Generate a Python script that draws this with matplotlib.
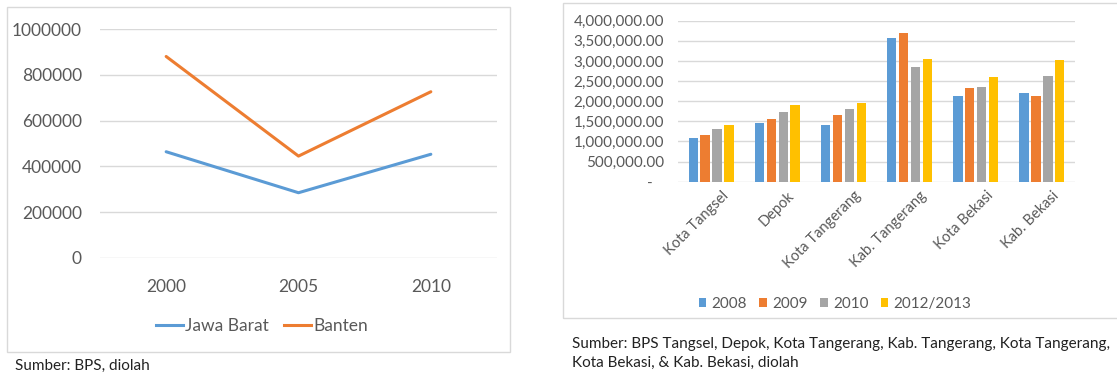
import matplotlib.pyplot as plt
from matplotlib.patches import Rectangle
from matplotlib.lines import Line2D
import matplotlib.transforms as mtransforms
import numpy as np

plt.rcParams['font.family'] = ['Lato', 'DejaVu Sans']

# line chart: Jawa Barat vs Banten
years = ['2000', '2005', '2010']
jawa_barat = [464000, 285000, 453000]
banten = [880000, 445000, 726000]

# bar chart: six cities/regencies, four periods
regions = ['Kota Tangsel', 'Depok', 'Kota Tangerang', 'Kab. Tangerang',
           'Kota Bekasi', 'Kab. Bekasi']
periods = ['2008', '2009', '2010', '2012/2013']
v2008 = [1076000, 1449000, 1407000, 3576000, 2127000, 2194000]
v2009 = [1167000, 1565000, 1656000, 3684000, 2326000, 2119000]
v2010 = [1308000, 1738000, 1805000, 2839000, 2343000, 2632000]
v2012 = [1407000, 1896000, 1954000, 3055000, 2591000, 3013000]

BLUE, ORANGE, GRAY, GOLD = '#5B9BD5', '#ED7D31', '#A5A5A5', '#FFC000'
TXT = '#595959'
GRID = '#D9D9D9'

W, H = 1117, 376
fig = plt.figure(figsize=(W / 100, H / 100), dpi=100)


def px_axes(x0, y0, x1, y1):
    # axes from pixel box (top-left origin)
    return fig.add_axes([x0 / W, (H - y1) / H, (x1 - x0) / W, (y1 - y0) / H])


# chart frames
fig.patches.append(Rectangle((7 / W, (H - 352) / H), 503 / W, 345 / H,
                             transform=fig.transFigure, fill=False,
                             edgecolor=GRID, lw=1))
fig.patches.append(Rectangle((563 / W, (H - 318) / H), 560 / W, 315 / H,
                             transform=fig.transFigure, fill=False,
                             edgecolor=GRID, lw=1))

# ---- left: line chart
ax1 = px_axes(100, 29, 497, 258)
x = np.arange(len(years))
ax1.plot(x, jawa_barat, color=BLUE, lw=2.2, solid_capstyle='round')
ax1.plot(x, banten, color=ORANGE, lw=2.2, solid_capstyle='round')
ax1.set_xlim(-0.5, 2.5)
ax1.set_ylim(0, 1000000)
ax1.set_yticks(range(0, 1000001, 200000))
ax1.set_yticklabels([str(v) for v in range(0, 1000001, 200000)])
ax1.set_xticks(x)
ax1.set_xticklabels(years)
ax1.grid(axis='y', color=GRID, lw=1)
ax1.set_axisbelow(True)
for s in ax1.spines.values():
    s.set_visible(False)
ax1.tick_params(length=0, labelsize=12.5, colors=TXT)
ax1.tick_params(axis='y', pad=13)
ax1.tick_params(axis='x', pad=15)

handles = [Line2D([], [], color=BLUE, lw=2.2), Line2D([], [], color=ORANGE, lw=2.2)]
fig.legend(handles, ['Jawa Barat', 'Banten'], loc='center',
           bbox_to_anchor=(262 / W, (H - 326) / H), ncol=2, frameon=False,
           fontsize=12.5, labelcolor=TXT, handlelength=1.55, handletextpad=0.1,
           columnspacing=0.9)

fig.text(15 / W, (H - 366) / H, 'Sumber: BPS, diolah', fontsize=11,
         color='#222222', va='center')

# ---- right: grouped bar chart
ax2 = px_axes(678, 20.7, 1075, 181.7)
xr = np.arange(len(regions))
step, bw = 0.18, 0.14
for i, (vals, col) in enumerate(zip([v2008, v2009, v2010, v2012],
                                    [BLUE, ORANGE, GRAY, GOLD])):
    ax2.bar(xr + (i - 1.5) * step, vals, width=bw, color=col, label=periods[i])
ax2.set_xlim(-0.5, len(regions) - 0.5)
ax2.set_ylim(0, 4000000)
yt = list(range(0, 4000001, 500000))
ax2.set_yticks(yt)
ax2.set_yticklabels(['-   ' if v == 0 else f'{v:,.2f}' for v in yt])
ax2.grid(axis='y', color=GRID, lw=1)
ax2.set_axisbelow(True)
for s in ax2.spines.values():
    s.set_visible(False)
ax2.tick_params(length=0, labelsize=11, colors=TXT)
ax2.tick_params(axis='y', pad=10)
ax2.set_xticks(xr)
ax2.set_xticklabels(regions, rotation=45, ha='right', rotation_mode='anchor',
                    fontsize=10.5)
ax2.tick_params(axis='x', pad=5)
shift = mtransforms.ScaledTranslation(10 / 100, 0, fig.dpi_scale_trans)
for lbl in ax2.get_xticklabels():
    lbl.set_transform(lbl.get_transform() + shift)

fig.legend(*ax2.get_legend_handles_labels(), loc='center',
           bbox_to_anchor=(835 / W, (H - 304) / H), ncol=4, frameon=False,
           fontsize=11, labelcolor=TXT, handlelength=0.5, handleheight=0.5,
           handletextpad=0.35, columnspacing=0.8)

fig.text(572 / W, (H - 344) / H,
         'Sumber: BPS Tangsel, Depok, Kota Tangerang, Kab. Tangerang, Kota Tangerang,',
         fontsize=11, color='#222222', va='center')
fig.text(572 / W, (H - 363) / H, 'Kota Bekasi, & Kab. Bekasi, diolah',
         fontsize=11, color='#222222', va='center')

fig.savefig('out.png', dpi=100, facecolor='white')
